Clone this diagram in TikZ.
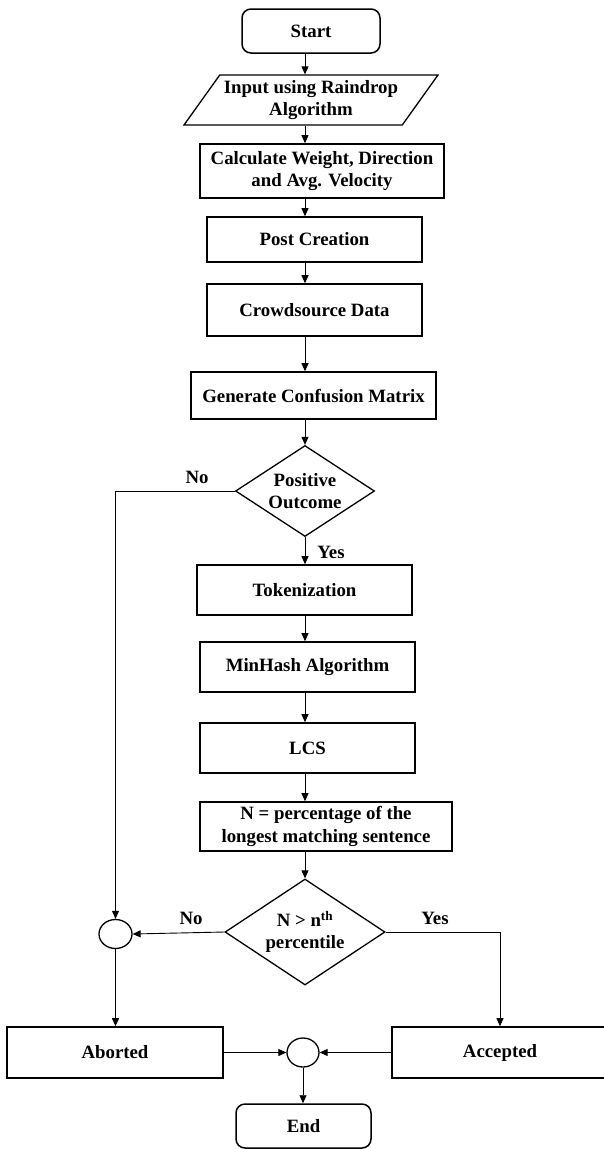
\documentclass[tikz,border=0pt]{standalone}
\usepackage{fontspec}
\setmainfont{Liberation Serif}
\usepackage{tikz}
\usetikzlibrary{shapes.geometric, arrows.meta, calc}
\tikzstyle{terminal} = [rectangle, rounded corners=9pt, draw=black, line width=1.5pt, inner sep=0pt, minimum width=137pt, minimum height=44pt, text centered]
\tikzstyle{io} = [trapezium, trapezium left angle=48, trapezium right angle=132, trapezium stretches body, draw=black, line width=1.3pt, inner xsep=-6pt, inner ysep=0pt, minimum width=254pt, minimum height=50pt, align=center]
\tikzstyle{process} = [rectangle, draw=black, line width=1.6pt, inner sep=0pt, minimum width=215pt, minimum height=50pt, align=center]
\tikzstyle{decision} = [diamond, draw=black, line width=1.3pt, inner sep=0pt, align=center]
\tikzstyle{junction} = [ellipse, draw=black, line width=1.3pt, inner sep=0pt, minimum width=33pt, minimum height=29pt]
\tikzstyle{arrow} = [line width=0.9pt, -{Triangle[length=8pt,width=7pt]}]

\begin{document}
\begin{tikzpicture}[x=1pt, y=-1pt, every node/.style={font=\fontsize{18.8}{22.5}\selectfont\bfseries}]
        \useasboundingbox (0,0) rectangle (604,1149);
        \coordinate (spine) at (305,0);

        % Main column
        \node (start) [terminal, minimum width=138pt] at (311,31) {Start};
        \node (input) [io] at (311,100) {Input using Raindrop\\Algorithm};
        \node (calc) [process, minimum width=244pt, minimum height=54pt] at (322,171) {Calculate Weight, Direction\\and Avg. Velocity};
        \node (post) [process, minimum height=45pt] at (314.5,239.5) {Post Creation};
        \node (crowd) [process, minimum height=52pt] at (314.5,310) {Crowdsource Data};
        \node (matrix) [process, minimum width=245pt, minimum height=47pt] at (313.5,395.5) {Generate Confusion Matrix};
        \node (outcome) [decision, minimum width=139pt, minimum height=91pt, aspect=1.53] at (305,491) {Positive\\Outcome};
        \node (token) [process] at (304.5,590) {Tokenization};
        \node (minhash) [process] at (307.5,667) {MinHash Algorithm};
        \node (lcs) [process] at (307.5,748) {LCS};
        \node (ratio) [process, minimum width=252pt, minimum height=49pt] at (326,826.5) {N = percentage of the\\longest matching sentence};
        \node (check) [decision, minimum width=160pt, minimum height=106pt, aspect=1.51] at (305,932) {N > n\textsuperscript{th}\\percentile};

        % Outcomes
        \node (joinL) [junction] at (115.5,934) {};
        \node (aborted) [process, minimum width=216pt, minimum height=51pt] at (115,1052.5) {Aborted};
        \node (accepted) [process, minimum width=216pt, minimum height=51pt] at (500,1052.5) {Accepted};
        \node (joinB) [junction, minimum width=32pt] at (303,1052.5) {};
        \node (end) [terminal, minimum width=135pt] at (303.5,1126) {End};

        % Labels
        \node (no1) at (197,477) {No};
        \node (yes1) at (331,552) {Yes};
        \node (no2) at (191,918) {No};
        \node (yes2) at (435,918) {Yes};

        % Connections
        \draw[arrow] (start.south -| spine) -- (input.north -| spine);
        \draw[arrow] (input.south -| spine) -- (calc.north -| spine);
        \draw[arrow] (calc.south -| spine) -- (post.north -| spine);
        \draw[arrow] (post.south -| spine) -- (crowd.north -| spine);
        \draw[arrow] (crowd.south -| spine) -- (matrix.north -| spine);
        \draw[arrow] (matrix.south -| spine) -- (outcome.north);
        \draw[arrow] (outcome.south) -- (token.north -| spine);
        \draw[arrow] (token.south -| spine) -- (minhash.north -| spine);
        \draw[arrow] (minhash.south -| spine) -- (lcs.north -| spine);
        \draw[arrow] (lcs.south -| spine) -- (ratio.north -| spine);
        \draw[arrow] (ratio.south -| spine) -- (check.north);

        % Branches
        \draw[arrow] (outcome.west) -| (joinL.north);
        \draw[arrow] (check.west) -- (joinL.east);
        \draw[arrow] (check.east) -| (accepted.north);
        \draw[arrow] (joinL.south) -- (aborted.north -| joinL.south);
        \draw[arrow] (aborted.east) -- (joinB.west);
        \draw[arrow] (accepted.west) -- (joinB.east);
        \draw[arrow] (joinB.south) -- (end.north -| joinB.south);
\end{tikzpicture}
\end{document}
